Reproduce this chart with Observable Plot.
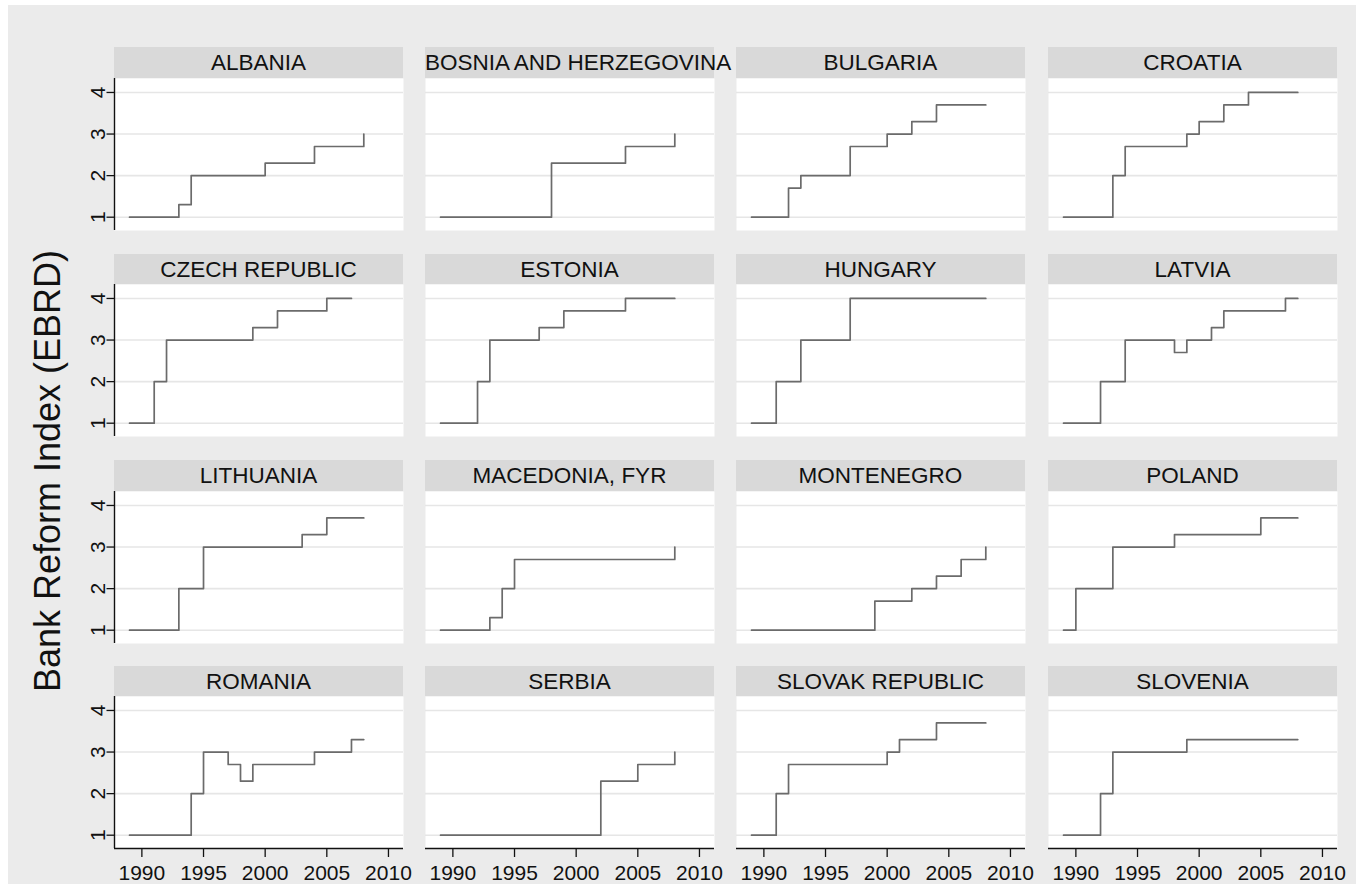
<!DOCTYPE html>
<html>
<head>
<meta charset="utf-8">
<script src="https://cdn.jsdelivr.net/npm/d3@7"></script>
<script src="https://cdn.jsdelivr.net/npm/@observablehq/plot@0.6"></script>
<style>
  html, body { margin: 0; padding: 0; background: #ffffff; overflow: hidden; }
  #bg { position: absolute; left: 8px; top: 5px; width: 1348px; height: 879px; background: #ebebeb; }
  .hdr { position: absolute; height: 30.5px; background: #d9d9d9; font-family: "Liberation Sans", Arial, sans-serif;
         font-size: 22.5px; line-height: 31px; text-align: center; color: #111; white-space: nowrap; overflow: visible; }
  .pan { position: absolute; }
  .pan svg { max-width: none !important; }
  .pan svg text { font-size: 21px !important; font-family: "Liberation Sans", Arial, sans-serif !important; fill: #111; }
  #ytitle { position: absolute; left: 48px; top: 471px; transform: translate(-50%, -50%) rotate(-90deg);
            font-family: "Liberation Sans", Arial, sans-serif; font-size: 36px; color: #111; white-space: nowrap; }
</style>
</head>
<body>
<div id="bg"></div>
<div id="root"></div>
<div id="ytitle">Bank Reform Index (EBRD)</div>
<script>
// ---- data ----
const years = [1989, 1990, 1991, 1992, 1993, 1994, 1995, 1996, 1997, 1998,
               1999, 2000, 2001, 2002, 2003, 2004, 2005, 2006, 2007, 2008];
const countries = ["ALBANIA", "BOSNIA AND HERZEGOVINA", "BULGARIA", "CROATIA",
                   "CZECH REPUBLIC", "ESTONIA", "HUNGARY", "LATVIA",
                   "LITHUANIA", "MACEDONIA, FYR", "MONTENEGRO", "POLAND",
                   "ROMANIA", "SERBIA", "SLOVAK REPUBLIC", "SLOVENIA"];
const albania    = [1, 1, 1, 1, 1.3, 2, 2, 2, 2, 2, 2, 2.3, 2.3, 2.3, 2.3, 2.7, 2.7, 2.7, 2.7, 3];
const bosnia     = [1, 1, 1, 1, 1, 1, 1, 1, 1, 2.3, 2.3, 2.3, 2.3, 2.3, 2.3, 2.7, 2.7, 2.7, 2.7, 3];
const bulgaria   = [1, 1, 1, 1.7, 2, 2, 2, 2, 2.7, 2.7, 2.7, 3, 3, 3.3, 3.3, 3.7, 3.7, 3.7, 3.7, 3.7];
const croatia    = [1, 1, 1, 1, 2, 2.7, 2.7, 2.7, 2.7, 2.7, 3, 3.3, 3.3, 3.7, 3.7, 4, 4, 4, 4, 4];
const czech      = [1, 1, 2, 3, 3, 3, 3, 3, 3, 3, 3.3, 3.3, 3.7, 3.7, 3.7, 3.7, 4, 4, 4];
const estonia    = [1, 1, 1, 2, 3, 3, 3, 3, 3.3, 3.3, 3.7, 3.7, 3.7, 3.7, 3.7, 4, 4, 4, 4, 4];
const hungary    = [1, 1, 2, 2, 3, 3, 3, 3, 4, 4, 4, 4, 4, 4, 4, 4, 4, 4, 4, 4];
const latvia     = [1, 1, 1, 2, 2, 3, 3, 3, 3, 2.7, 3, 3, 3.3, 3.7, 3.7, 3.7, 3.7, 3.7, 4, 4];
const lithuania  = [1, 1, 1, 1, 2, 2, 3, 3, 3, 3, 3, 3, 3, 3, 3.3, 3.3, 3.7, 3.7, 3.7, 3.7];
const macedonia  = [1, 1, 1, 1, 1.3, 2, 2.7, 2.7, 2.7, 2.7, 2.7, 2.7, 2.7, 2.7, 2.7, 2.7, 2.7, 2.7, 2.7, 3];
const montenegro = [1, 1, 1, 1, 1, 1, 1, 1, 1, 1, 1.7, 1.7, 1.7, 2, 2, 2.3, 2.3, 2.7, 2.7, 3];
const poland     = [1, 2, 2, 2, 3, 3, 3, 3, 3, 3.3, 3.3, 3.3, 3.3, 3.3, 3.3, 3.3, 3.7, 3.7, 3.7, 3.7];
const romania    = [1, 1, 1, 1, 1, 2, 3, 3, 2.7, 2.3, 2.7, 2.7, 2.7, 2.7, 2.7, 3, 3, 3, 3.3, 3.3];
const serbia     = [1, 1, 1, 1, 1, 1, 1, 1, 1, 1, 1, 1, 1, 2.3, 2.3, 2.3, 2.7, 2.7, 2.7, 3];
const slovakia   = [1, 1, 2, 2.7, 2.7, 2.7, 2.7, 2.7, 2.7, 2.7, 2.7, 3, 3.3, 3.3, 3.3, 3.7, 3.7, 3.7, 3.7, 3.7];
const slovenia   = [1, 1, 1, 2, 3, 3, 3, 3, 3, 3, 3.3, 3.3, 3.3, 3.3, 3.3, 3.3, 3.3, 3.3, 3.3, 3.3];
const seriesList = [albania, bosnia, bulgaria, croatia, czech, estonia, hungary, latvia,
                    lithuania, macedonia, montenegro, poland, romania, serbia, slovakia, slovenia];
const yTicks = [1, 2, 3, 4];
const xTicks = [1990, 1995, 2000, 2005, 2010];

// ---- layout ----
const colLeft = [114, 425, 736, 1048];
const rowPlotTop = [77.7, 284, 490.7, 696];
const panelW = 289, panelH = 152, headerH = 30.5;
const mL = 50, mR = 30, mT = 0, mB = 40;
const xDomain = [1987.78, 2011.22];
const yDomain = [0.68, 4.336];

const root = document.getElementById("root");

countries.forEach((name, i) => {
  const r = Math.floor(i / 4), c = i % 4;
  const data = seriesList[i].map((v, k) => ({year: years[k], value: v}));

  const hdr = document.createElement("div");
  hdr.className = "hdr";
  hdr.style.left = colLeft[c] + "px";
  hdr.style.top = (rowPlotTop[r] - headerH) + "px";
  hdr.style.width = panelW + "px";
  hdr.textContent = name;
  root.appendChild(hdr);

  const marks = [
    Plot.frame({fill: "white", stroke: "none"}),
    Plot.gridY(yTicks, {stroke: "#e6e6e6", strokeOpacity: 1, strokeWidth: 1.6}),
    Plot.line(data, {x: "year", y: "value", curve: "step-after", stroke: "#6b6b6b", strokeWidth: 1.7})
  ];
  if (c === 0) {
    marks.push(Plot.ruleX([xDomain[0]], {stroke: "#111", strokeWidth: 1.4}));
    marks.push(Plot.axisY(yTicks, {tickSize: 7.5, tickRotate: -90, tickPadding: 2, fontSize: 21, stroke: "#111", fill: "#111", strokeWidth: 1.3, label: null}));
  }
  if (r === 3) {
    marks.push(Plot.ruleY([yDomain[0]], {stroke: "#111", strokeWidth: 1.4}));
    marks.push(Plot.axisX(xTicks, {tickSize: 9, tickPadding: 8, tickFormat: "d", fontSize: 21, stroke: "#111", fill: "#111", strokeWidth: 1.3, label: null}));
  }

  const W = mL + panelW + mR, H = mT + panelH + mB;
  const chart = Plot.plot({
    width: W,
    height: H,
    marginLeft: mL, marginRight: mR, marginTop: mT, marginBottom: mB,
    x: {domain: xDomain, axis: null},
    y: {domain: yDomain, axis: null},
    style: {background: "transparent", fontFamily: "'Liberation Sans', Arial, sans-serif", fontSize: "21px", color: "#111", overflow: "visible"},
    marks
  });
  chart.style.maxWidth = "none";
  chart.style.width = W + "px";
  chart.style.height = H + "px";
  const wrap = document.createElement("div");
  wrap.className = "pan";
  wrap.style.left = (colLeft[c] - mL) + "px";
  wrap.style.top = (rowPlotTop[r] - mT) + "px";
  wrap.style.width = W + "px";
  wrap.style.height = H + "px";
  wrap.appendChild(chart);
  root.appendChild(wrap);
});
</script>
</body>
</html>
